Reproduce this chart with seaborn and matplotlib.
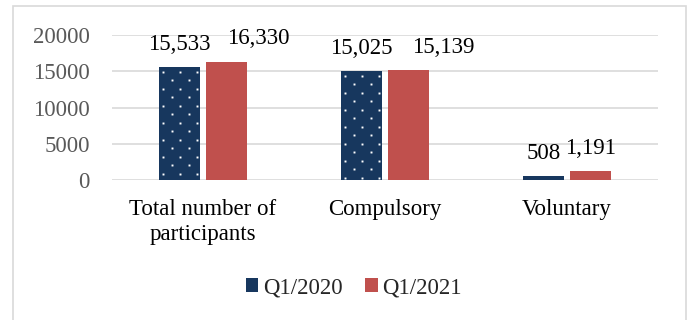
import numpy as np
import pandas as pd
import matplotlib
matplotlib.use("Agg")
import matplotlib.pyplot as plt
import matplotlib.patches as mpatches
import seaborn as sns

# Participants by category, first quarter of each year
categories = ["Total number of\nparticipants", "Compulsory", "Voluntary"]
series_names = ["Q1/2020", "Q1/2021"]
q1_2020 = [15533, 15025, 508]
q1_2021 = [16330, 15139, 1191]
y_ticks = [0, 5000, 10000, 15000, 20000]

NAVY = "#17375E"
RED = "#C0504D"
GRID = "#D9D9D9"
FS = 16.5

sns.set_theme(style="white")
plt.rcParams["font.family"] = ["Liberation Serif", "DejaVu Serif"]

df = pd.DataFrame({
    "category": categories * 2,
    "series": [series_names[0]] * 3 + [series_names[1]] * 3,
    "value": q1_2020 + q1_2021,
})

fig = plt.figure(figsize=(6.91, 3.2), dpi=100)
ax = fig.add_axes([112 / 691, 1 - 180 / 320, (658 - 112) / 691, (180 - 35) / 320])

sns.barplot(data=df, x="category", y="value", hue="series", order=categories,
            hue_order=series_names, palette=[NAVY, RED], width=0.51, gap=0.12,
            saturation=1, linewidth=0, ax=ax, legend=True)

ax.set_xlim(-0.5, len(categories) - 0.5)
ax.set_ylim(0, 20000)
ax.set_yticks(y_ticks)
ax.set_yticklabels([str(t) for t in y_ticks], color="#595959", fontsize=FS)
ax.set_xlabel("")
ax.set_ylabel("")
ax.tick_params(axis="x", length=0, pad=14, labelsize=FS, labelcolor="black")
ax.tick_params(axis="y", length=0, pad=16)
ax.yaxis.grid(True, color=GRID, linewidth=1.2)
ax.set_axisbelow(True)
for s in ax.spines.values():
    s.set_visible(False)

# value labels above each bar; the 2021 labels slide right where they would collide
label_dx = [[0, 0, 0], [23, 25, 0]]
for cont, vals, dxs in zip(ax.containers, [q1_2020, q1_2021], label_dx):
    for bar, v, dx in zip(cont, vals, dxs):
        ax.annotate(f"{v:,}", (bar.get_x() + bar.get_width() / 2, bar.get_height()),
                    xytext=(dx, 9), textcoords="offset points", ha="center",
                    va="bottom", fontsize=FS, color="black", annotation_clip=False)

# white dot pattern on the 2020 bars
fig.canvas.draw()
inv = ax.transData.inverted()
for patch in ax.containers[0]:
    bb = patch.get_window_extent()
    pts = []
    y = bb.y1 - 4.5
    row = 0
    while y > bb.y0 + 1:
        offs = [4, 21, 38] if row % 2 == 0 else [12.5, 29.5]
        for o in offs:
            x = bb.x0 + o * (bb.width / 41.0)
            if x < bb.x1 - 1:
                pts.append((x, y))
        y -= 8.5
        row += 1
    if pts:
        d = inv.transform(np.array(pts))
        ax.plot(d[:, 0], d[:, 1], linestyle="none", marker="s", markersize=1.4,
                markerfacecolor="white", markeredgewidth=0, zorder=5)

# legend below the plot
leg = ax.get_legend()
handles = leg.legend_handles
labels = [t.get_text() for t in leg.get_texts()]
leg.remove()
fig.legend(handles, labels, loc="center", bbox_to_anchor=(0.512, 0.1), ncol=2,
           frameon=False, fontsize=FS, handlelength=0.55, handleheight=0.55,
           handletextpad=0.2, columnspacing=1.0)

# outer chart border
fig.patches.append(mpatches.Rectangle((13 / 691, -0.05), (686 - 13) / 691,
                                      1 - 6 / 320 + 0.05, transform=fig.transFigure,
                                      fill=False, edgecolor=GRID, linewidth=1.2))

fig.savefig("out.png", dpi=100)
